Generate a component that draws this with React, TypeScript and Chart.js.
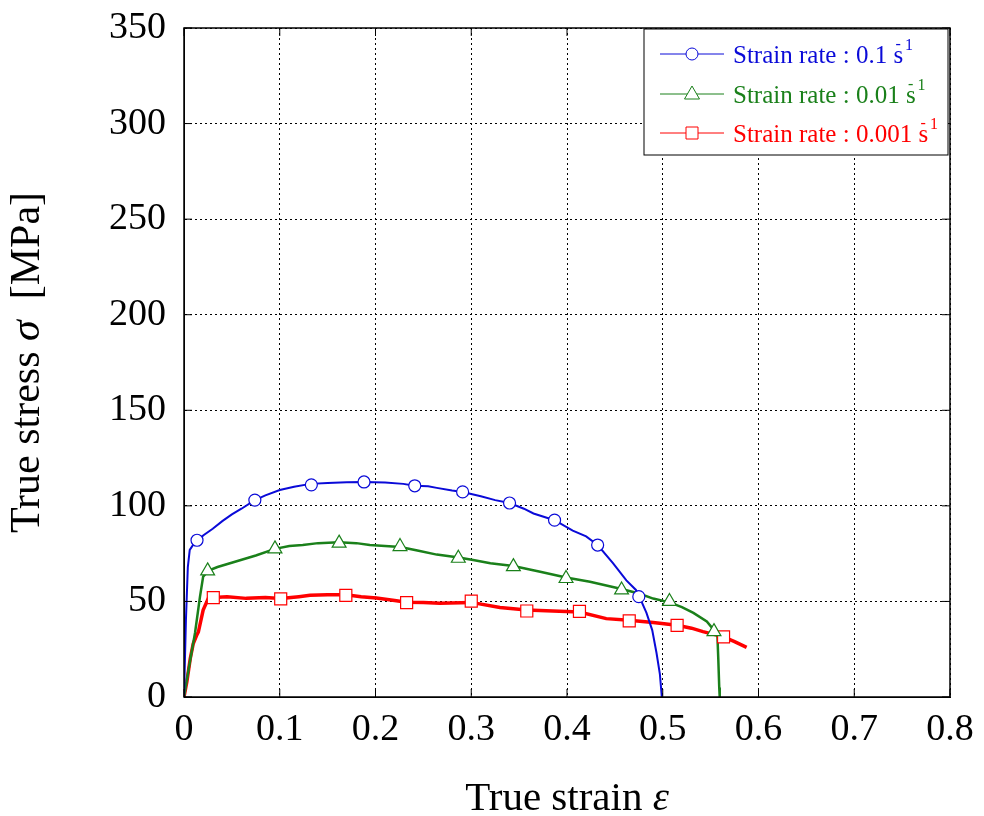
import React, { useEffect, useRef } from "react";
import { Chart, registerables } from "chart.js";

Chart.register(...registerables);

// True strain / true stress curves
const blueLine: [number, number][] = [
  [0, 0], [0.002, 40], [0.004, 68], [0.006, 77], [0.01, 80], [0.015, 82], [0.02, 84.5],
  [0.03, 88], [0.04, 92], [0.05, 95.5], [0.06, 98.5], [0.074, 103], [0.085, 105.5],
  [0.1, 108.3], [0.115, 110], [0.132, 111.5], [0.15, 112], [0.17, 112.3], [0.188, 112.5],
  [0.21, 112.2], [0.229, 111.5], [0.241, 110.5], [0.255, 110.2], [0.264, 109.4], [0.28, 108],
  [0.291, 107.2], [0.31, 105], [0.325, 103], [0.34, 101.5], [0.355, 98.5], [0.365, 96],
  [0.387, 92.5], [0.406, 87], [0.42, 84], [0.432, 79.5], [0.448, 70], [0.462, 61],
  [0.472, 56], [0.476, 52], [0.483, 44], [0.489, 35], [0.4935, 23], [0.497, 12],
  [0.4987, 2], [0.499, 0],
];

const greenLine: [number, number][] = [
  [0, 0], [0.005, 15], [0.0115, 33.5], [0.0167, 52.5], [0.02, 63], [0.025, 66],
  [0.035, 68], [0.055, 71], [0.075, 74], [0.095, 77.5], [0.11, 79], [0.124, 79.5],
  [0.14, 80.5], [0.162, 81], [0.18, 80.5], [0.194, 79.5], [0.21, 79], [0.226, 78.5],
  [0.245, 76.5], [0.264, 74.5], [0.287, 73], [0.302, 71.7], [0.32, 70], [0.344, 68.5],
  [0.372, 65.5], [0.399, 62.5], [0.424, 60.3], [0.457, 56.5], [0.476, 54], [0.49, 51.5],
  [0.507, 49.5], [0.52, 47], [0.532, 44], [0.546, 39.5], [0.5535, 35], [0.557, 33],
  [0.558, 20], [0.559, 5], [0.5595, 0],
];

const redLine: [number, number][] = [
  [0, 0], [0.003, 8], [0.0065, 20], [0.0097, 28], [0.013, 32], [0.015, 34], [0.02, 45.5],
  [0.0254, 51.6], [0.031, 52], [0.045, 52.5], [0.065, 51.6], [0.085, 52], [0.101, 51.5],
  [0.12, 52.5], [0.1316, 53.2], [0.15, 53.5], [0.169, 53.5], [0.185, 52.5], [0.201, 51.8],
  [0.22, 50.5], [0.2325, 49.6], [0.25, 49.5], [0.267, 49], [0.3, 49.5], [0.33, 46.8],
  [0.358, 45.5], [0.385, 45], [0.413, 44.5], [0.441, 41], [0.465, 40.2], [0.49, 39],
  [0.515, 37.5], [0.53, 36], [0.542, 34.2], [0.5635, 31.5], [0.575, 29], [0.5876, 26],
];

const blueMarkers: [number, number][] = [
  [0.0136, 82], [0.074, 103], [0.133, 111], [0.188, 112.5], [0.241, 110.5],
  [0.291, 107.3], [0.34, 101.5], [0.387, 92.5], [0.432, 79.5], [0.475, 52.5],
];
const greenMarkers: [number, number][] = [
  [0.0247, 66], [0.095, 77.5], [0.162, 80.5], [0.2256, 78.7], [0.2865, 72.6],
  [0.344, 68.2], [0.399, 62], [0.457, 56], [0.507, 50], [0.5535, 34.2],
];
const redMarkers: [number, number][] = [
  [0.0306, 52], [0.101, 51.3], [0.169, 53.2], [0.2325, 49.4], [0.3, 50.2],
  [0.358, 45], [0.413, 44.8], [0.465, 39.8], [0.515, 37.5], [0.5635, 31.5],
];

const seriesLabels = ["Strain rate : 0.1 s", "Strain rate : 0.01 s", "Strain rate : 0.001 s"];
const seriesColors = ["#0a0ad8", "#1a801a", "#ff0000"];
const seriesShapes = ["circle", "triangle", "rect"];
const xTicks = [0, 0.1, 0.2, 0.3, 0.4, 0.5, 0.6, 0.7, 0.8];
const yTicks = [0, 50, 100, 150, 200, 250, 300, 350];
const xTitleParts: [string, boolean][] = [["True strain ", false], ["\u03b5", true]];
const yTitleParts: [string, boolean][] = [["True stress ", false], ["\u03c3", true], ["  [MPa]", false]];

const FONT = "'Liberation Serif', 'Times New Roman', serif";

const toXY = (arr: [number, number][]) => arr.map(([x, y]) => ({ x, y }));

function drawShape(ctx: CanvasRenderingContext2D, shape: string, x: number, y: number) {
  ctx.beginPath();
  if (shape === "circle") {
    ctx.arc(x, y, 6, 0, Math.PI * 2);
  } else if (shape === "triangle") {
    ctx.moveTo(x, y - 8);
    ctx.lineTo(x + 7.5, y + 5);
    ctx.lineTo(x - 7.5, y + 5);
    ctx.closePath();
  } else {
    ctx.rect(x - 6, y - 6, 12, 12);
  }
  ctx.fillStyle = "#fff";
  ctx.fill();
  ctx.stroke();
}

function drawParts(ctx: CanvasRenderingContext2D, parts: [string, boolean][], size: number) {
  const fontOf = (it: boolean) => `${it ? "italic " : ""}${size}px ${FONT}`;
  let total = 0;
  parts.forEach(([t, it]) => {
    ctx.font = fontOf(it);
    total += ctx.measureText(t).width;
  });
  let x = -total / 2;
  parts.forEach(([t, it]) => {
    ctx.font = fontOf(it);
    ctx.fillText(t, x, 0);
    x += ctx.measureText(t).width;
  });
}

const framePlugin = {
  id: "frame",
  afterDatasetsDraw(chart: any) {
    const { ctx, chartArea, scales } = chart;
    const { left, right, top, bottom } = chartArea;
    ctx.save();
    ctx.strokeStyle = "#000";
    ctx.lineWidth = 1.5;
    ctx.setLineDash([]);
    ctx.strokeRect(left, top, right - left, bottom - top);
    ctx.lineWidth = 1;
    const tl = 8;
    xTicks.forEach((v) => {
      const px = scales.x.getPixelForValue(v);
      ctx.beginPath();
      ctx.moveTo(px, bottom);
      ctx.lineTo(px, bottom - tl);
      ctx.moveTo(px, top);
      ctx.lineTo(px, top + tl);
      ctx.stroke();
    });
    yTicks.forEach((v) => {
      const py = scales.y.getPixelForValue(v);
      ctx.beginPath();
      ctx.moveTo(left, py);
      ctx.lineTo(left + tl, py);
      ctx.moveTo(right, py);
      ctx.lineTo(right - tl, py);
      ctx.stroke();
    });

    // axis titles
    ctx.fillStyle = "#000";
    ctx.textBaseline = "middle";
    ctx.textAlign = "left";
    ctx.save();
    ctx.translate((left + right) / 2, bottom + 102);
    drawParts(ctx, xTitleParts, 41);
    ctx.restore();
    ctx.save();
    ctx.translate(28, (top + bottom) / 2);
    ctx.rotate(-Math.PI / 2);
    drawParts(ctx, yTitleParts, 42);
    ctx.restore();

    // legend
    const bw = 304;
    const bh = 126;
    const bx = right - bw - 2;
    const by = top + 1;
    ctx.fillStyle = "#fff";
    ctx.fillRect(bx, by, bw, bh);
    ctx.strokeStyle = "#000";
    ctx.lineWidth = 1;
    ctx.strokeRect(bx, by, bw, bh);
    const rows = [25, 65, 104];
    rows.forEach((ry, i) => {
      const y = by + ry;
      const color = seriesColors[i];
      ctx.strokeStyle = color;
      ctx.lineWidth = 1;
      ctx.beginPath();
      ctx.moveTo(bx + 16, y);
      ctx.lineTo(bx + 80, y);
      ctx.stroke();
      drawShape(ctx, seriesShapes[i], bx + 48, y);
      ctx.fillStyle = color;
      ctx.font = `25px ${FONT}`;
      ctx.textBaseline = "middle";
      ctx.textAlign = "left";
      const tx = bx + 89;
      ctx.fillText(seriesLabels[i], tx, y + 2);
      const w = ctx.measureText(seriesLabels[i]).width;
      const sw = ctx.measureText("s").width;
      ctx.font = `16px ${FONT}`;
      ctx.fillText("-", tx + w - sw + 2, y - 9);
      ctx.fillText("1", tx + w + 2, y - 8);
    });
    ctx.restore();
  },
};

export default function App() {
  const ref = useRef<HTMLCanvasElement | null>(null);
  useEffect(() => {
    if (!ref.current) return;
    const lineDs = (data: [number, number][], color: string, width: number) => ({
      type: "line" as const,
      data: toXY(data),
      borderColor: color,
      borderWidth: width,
      pointRadius: 0,
      tension: 0,
      fill: false,
      order: 2,
    });
    const markDs = (data: [number, number][], color: string, style: string, r: number) => ({
      type: "scatter" as const,
      data: toXY(data),
      borderColor: color,
      backgroundColor: "#fff",
      borderWidth: 1.2,
      pointStyle: style,
      pointRadius: r,
      showLine: false,
      order: 1,
    });
    const chart = new Chart(ref.current, {
      type: "line",
      data: {
        datasets: [
          lineDs(blueLine, seriesColors[0], 2),
          lineDs(greenLine, seriesColors[1], 2.5),
          lineDs(redLine, seriesColors[2], 3.5),
          markDs(blueMarkers, seriesColors[0], "circle", 6),
          markDs(greenMarkers, seriesColors[1], "triangle", 8),
          markDs(redMarkers, seriesColors[2], "rect", 8.5),
        ] as any,
      },
      options: {
        responsive: false,
        animation: false,
        layout: { padding: { left: 0, top: 28, right: 34, bottom: 0 } },
        plugins: { legend: { display: false }, tooltip: { enabled: false } },
        scales: {
          x: {
            type: "linear",
            min: 0,
            max: 0.8,
            afterBuildTicks: (s: any) => {
              s.ticks = xTicks.map((v) => ({ value: v }));
            },
            afterFit: (s: any) => {
              s.height = 119;
              s.paddingLeft = 0;
              s.paddingRight = 0;
            },
            ticks: {
              color: "#000",
              font: { family: FONT, size: 38 },
              padding: 10,
              maxRotation: 0,
              callback: (v: any) => (Number(v) === 0 ? "0" : Number(v).toFixed(1)),
            },
            grid: { color: "#000", lineWidth: 1, drawTicks: false },
            border: { display: true, color: "#000", width: 1, dash: [2, 3] },
          },
          y: {
            type: "linear",
            min: 0,
            max: 350,
            afterBuildTicks: (s: any) => {
              s.ticks = yTicks.map((v) => ({ value: v }));
            },
            afterFit: (s: any) => {
              s.width = 184;
              s.paddingTop = 0;
              s.paddingBottom = 0;
            },
            ticks: {
              color: "#000",
              font: { family: FONT, size: 38 },
              padding: 18,
            },
            grid: { color: "#000", lineWidth: 1, drawTicks: false },
            border: { display: true, color: "#000", width: 1, dash: [2, 3] },
          },
        },
      },
      plugins: [framePlugin],
    });
    return () => chart.destroy();
  }, []);
  return (
    <div style={{ position: "absolute", left: 0, top: 0, width: 984, height: 816, background: "#fff" }}>
      <canvas ref={ref} width={984} height={816} />
    </div>
  );
}
